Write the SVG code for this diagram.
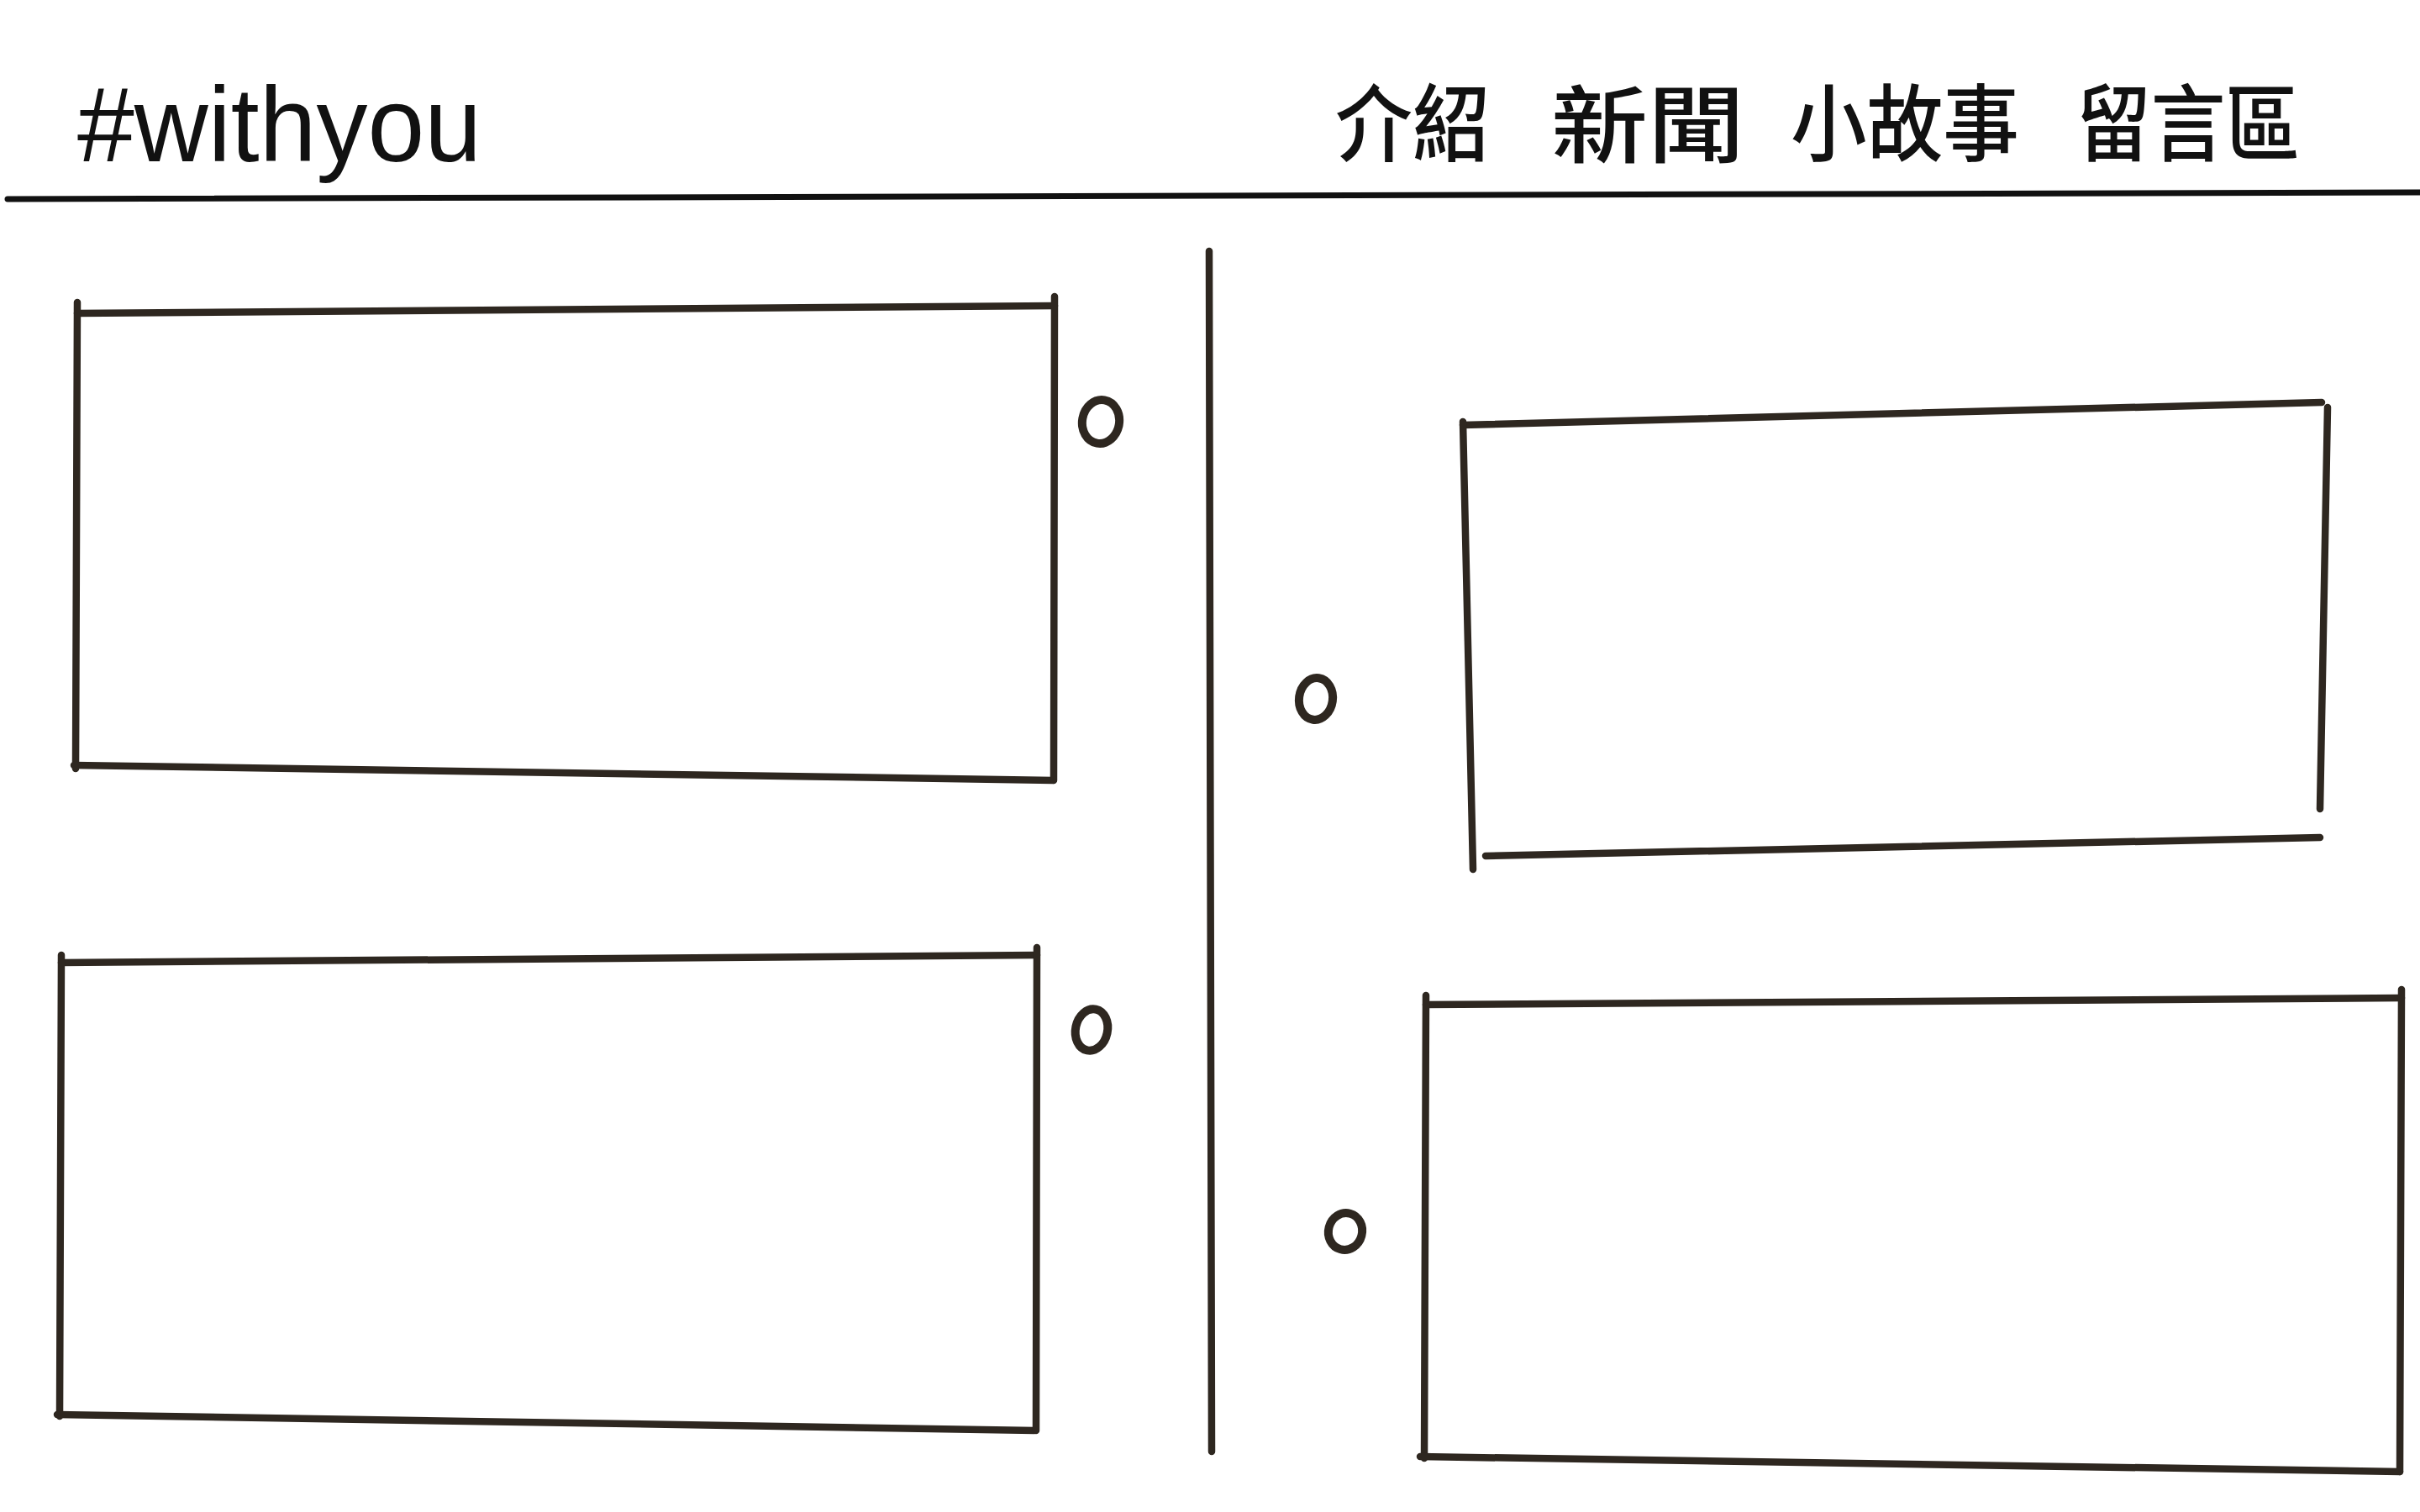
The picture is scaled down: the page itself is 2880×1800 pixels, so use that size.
<svg xmlns="http://www.w3.org/2000/svg" width="2880" height="1800" viewBox="0 0 2880 1800">
  <style>
    .ln { stroke: #2e2720; stroke-width: 8.5; stroke-linecap: round; fill: none; }
    .hd { stroke: #111; stroke-width: 7; stroke-linecap: round; fill: none; }
    .dot { stroke: #2e2720; stroke-width: 10; fill: none; }
    .en { font-family: "Liberation Sans", Arial, sans-serif; font-size: 126px; fill: #111; }
    .zh { font-family: "Noto Sans CJK TC", "Noto Sans CJK SC", sans-serif; font-size: 100px; font-weight: 500; fill: #111; }
  </style>
  <rect width="2880" height="1800" fill="#ffffff"/>

  <g id="header">
    <text class="en" x="92" y="192" textLength="481" lengthAdjust="spacingAndGlyphs">#withyou</text>
    <text class="zh" x="1589" y="184" textLength="184" lengthAdjust="spacingAndGlyphs">介紹</text>
    <text class="zh" x="1846" y="186" textLength="230" lengthAdjust="spacingAndGlyphs">新聞</text>
    <text class="zh" x="2131" y="184" textLength="272" lengthAdjust="spacingAndGlyphs">小故事</text>
    <text class="zh" x="2471" y="184" textLength="266" lengthAdjust="spacingAndGlyphs">留言區</text>
    <line class="hd" x1="9" y1="237" x2="2880" y2="229"/>
  </g>

  <g id="connectors">
    <line class="ln" x1="1439" y1="299" x2="1442" y2="1728"/>
  </g>

  <g id="box1">
    <line class="ln" x1="92" y1="373" x2="1255" y2="364"/>
    <line class="ln" x1="92" y1="360" x2="90" y2="915"/>
    <line class="ln" x1="88" y1="911" x2="1253" y2="929"/>
    <line class="ln" x1="1255" y1="353" x2="1254" y2="929"/>
  </g>
  <g id="dot1"><ellipse class="dot" cx="1310" cy="502" rx="22" ry="26" transform="rotate(10 1310 502)"/></g>

  <g id="box2">
    <line class="ln" x1="73" y1="1146" x2="1234" y2="1137"/>
    <line class="ln" x1="73" y1="1137" x2="71" y2="1686"/>
    <line class="ln" x1="68" y1="1684" x2="1231" y2="1703"/>
    <line class="ln" x1="1234" y1="1128" x2="1233" y2="1703"/>
  </g>
  <g id="dot3"><ellipse class="dot" cx="1299" cy="1226" rx="19" ry="25" transform="rotate(12 1299 1226)"/></g>

  <g id="box3">
    <line class="ln" x1="1741" y1="506" x2="2763" y2="479"/>
    <line class="ln" x1="1741" y1="502" x2="1753" y2="1035"/>
    <line class="ln" x1="1768" y1="1019" x2="2761" y2="997"/>
    <line class="ln" x1="2770" y1="485" x2="2761" y2="963"/>
  </g>
  <g id="dot2"><ellipse class="dot" cx="1566" cy="832" rx="20" ry="25" transform="rotate(8 1566 832)"/></g>

  <g id="box4">
    <line class="ln" x1="1697" y1="1196" x2="2858" y2="1188"/>
    <line class="ln" x1="1697" y1="1185" x2="1695" y2="1736"/>
    <line class="ln" x1="1690" y1="1734" x2="2856" y2="1752"/>
    <line class="ln" x1="2858" y1="1178" x2="2856" y2="1752"/>
  </g>
  <g id="dot4"><ellipse class="dot" cx="1601" cy="1466" rx="20" ry="22" transform="rotate(15 1601 1466)"/></g>
</svg>
